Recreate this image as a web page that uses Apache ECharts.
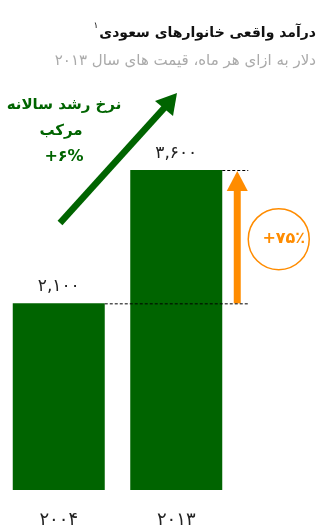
<!DOCTYPE html>
<html>
<head>
<meta charset="utf-8">
<script src="https://cdn.jsdelivr.net/npm/echarts@6/dist/echarts.min.js"></script>
<style>
html,body{margin:0;padding:0;background:#fff;}
#c{width:321px;height:529px;}
</style>
</head>
<body>
<div id="c"></div>
<script>
// ---- data ----
const categories = ['2004', '2013'];
const incomeValues = [2100, 3600];
const titleText = 'درآمد واقعی خانوارهای سعودی';
const titleNote = '۱';
const subtitleText = 'دلار به ازای هر ماه، قیمت های سال ۲۰۱۳';
const cagrLines = ['نرخ رشد سالانه', 'مرکب', '+۶%'];
const growthLabel = '+۷۵٪';

const FA = '۰۱۲۳۴۵۶۷۸۹';
const fa = s => String(s).replace(/\d/g, d => FA[d]);
const fmt = v => fa(Number(v).toLocaleString('en-US'));

const GREEN = '#006400';
const ORANGE = '#FF8C00';
const FONT = '"DejaVu Sans", sans-serif';

const chart = echarts.init(document.getElementById('c'), null, {renderer: 'canvas'});

const option = {
  animation: false,
  backgroundColor: '#fff',
  textStyle: {fontFamily: FONT},
  grid: {left: 0, width: 235, top: 170, bottom: 36, containLabel: false},
  xAxis: {
    type: 'category',
    data: categories,
    axisLine: {show: false},
    axisTick: {show: false},
    axisLabel: {
      formatter: v => fa(v),
      fontSize: 18, color: '#222', margin: 21, fontFamily: FONT
    }
  },
  yAxis: {
    type: 'value', min: 0, max: 3600,
    show: false, splitLine: {show: false}
  },
  series: [{
    type: 'bar',
    data: incomeValues,
    barWidth: 92,
    itemStyle: {color: GREEN},
    label: {
      show: true, position: 'top', distance: 8,
      formatter: p => fmt(p.value),
      fontSize: 17, color: '#222', fontFamily: FONT
    }
  }]
};
chart.setOption(option);

function measure(text, font) {
  const ctx = document.createElement('canvas').getContext('2d');
  ctx.font = font;
  return ctx.measureText(text).width;
}

function drawAnnotations() {
  const p1 = chart.convertToPixel({gridIndex: 0}, [0, incomeValues[0]]);
  const p2 = chart.convertToPixel({gridIndex: 0}, [1, incomeValues[1]]);
  const half = 46;
  const rightX = p2[0] + half + 26;
  const arrowX = p2[0] + half + 15;
  const y1 = p1[1], y2 = p2[1];
  const dash = {stroke: '#000', lineWidth: 1, lineDash: [3, 2]};
  const midY = (y1 + y2) / 2;
  const circ = {x: arrowX + 41.5, y: midY + 2.5, r: 30.5};

  const titleFont = 'bold 14px ' + FONT;
  const tW = measure(titleText, titleFont);
  const titleRight = 316;

  chart.setOption({
    graphic: [
      // title
      {type: 'text', z: 6, x: titleRight, y: 33, style: {text: titleText, fill: '#111', font: titleFont, align: 'right', verticalAlign: 'middle'}},
      {type: 'text', z: 6, x: titleRight - tW - 1, y: 26, style: {text: titleNote, fill: '#111', font: '9px ' + FONT, align: 'right', verticalAlign: 'middle'}},
      {type: 'text', z: 6, x: titleRight, y: 61, style: {text: subtitleText, fill: '#aaa', font: '15px ' + FONT, align: 'right', verticalAlign: 'middle'}},
      // dashed reference lines
      {type: 'line', z: 10, shape: {x1: p1[0] + half, y1: y1 + 0.5, x2: rightX, y2: y1 + 0.5}, style: dash},
      {type: 'line', z: 10, shape: {x1: p2[0] + half, y1: y2 + 0.5, x2: rightX, y2: y2 + 0.5}, style: dash},
      // orange arrow
      {type: 'rect', z: 5, shape: {x: arrowX - 3.5, y: y2 + 18, width: 7, height: y1 - y2 - 18}, style: {fill: ORANGE}},
      {type: 'polygon', z: 5, shape: {points: [[arrowX, y2 + 1], [arrowX - 10.5, y2 + 21], [arrowX + 10.5, y2 + 21]]}, style: {fill: ORANGE}},
      {type: 'circle', z: 5, shape: {cx: circ.x, cy: circ.y, r: circ.r}, style: {fill: 'none', stroke: ORANGE, lineWidth: 1.5}},
      {type: 'text', z: 6, x: circ.x + 5, y: circ.y, style: {text: growthLabel, fill: ORANGE, font: 'bold 16px ' + FONT, align: 'center', verticalAlign: 'middle'}},
      // green arrow
      {type: 'line', z: 5, shape: {x1: 60, y1: 223, x2: 166, y2: 106}, style: {stroke: GREEN, lineWidth: 6.5}},
      {type: 'polygon', z: 5, shape: {points: [[177, 93], [155, 101], [173, 116]]}, style: {fill: GREEN}},
      {type: 'text', z: 6, x: 64, y: 105, style: {text: cagrLines[0], fill: GREEN, font: 'bold 15px ' + FONT, align: 'center', verticalAlign: 'middle'}},
      {type: 'text', z: 6, x: 61, y: 131, style: {text: cagrLines[1], fill: GREEN, font: 'bold 15px ' + FONT, align: 'center', verticalAlign: 'middle'}},
      {type: 'text', z: 6, x: 64, y: 157, style: {text: cagrLines[2], fill: GREEN, font: 'bold 16px ' + FONT, align: 'center', verticalAlign: 'middle'}}
    ]
  });
}
drawAnnotations();
</script>
</body>
</html>
